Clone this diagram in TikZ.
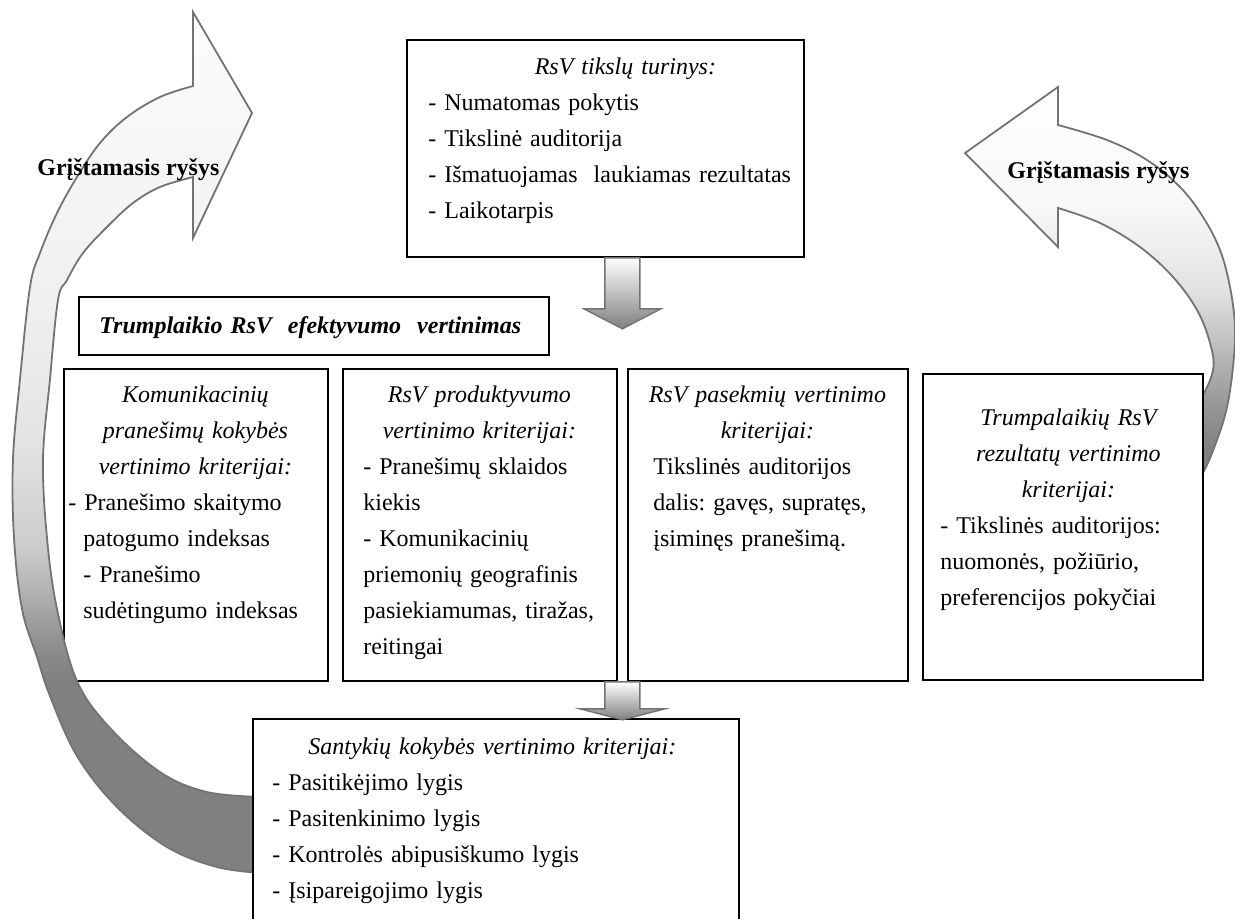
\documentclass[tikz,border=0pt]{standalone}
\usepackage{fontspec}
\setmainfont{Liberation Serif}
\usetikzlibrary{calc}

% shadings of the two feedback arrows (white at the head, grey at the tail)
\pgfdeclareverticalshading{fbleft}{100bp}{color(0bp)=(black!50); color(36bp)=(black!50); color(38bp)=(black!45); color(41bp)=(black!32); color(44bp)=(black!20); color(50bp)=(black!11); color(58bp)=(black!6); color(75bp)=(black!1); color(100bp)=(black!1)}
\pgfdeclareverticalshading{fbright}{100bp}{color(0bp)=(black!50); color(31bp)=(black!50); color(37bp)=(black!40); color(44bp)=(black!25); color(50bp)=(black!12); color(60bp)=(black!3); color(75bp)=(white); color(100bp)=(white)}

\newcommand{\boxhead}[2]{\makebox[#1]{\itshape #2}}

\tikzset{
    box/.style={draw, line width=0.9pt, fill=white, anchor=north west, inner sep=0pt},
    txt/.style={anchor=base west, inner sep=0pt, align=left, text width=#1,
        font=\fontsize{12pt}{18pt}\selectfont\frenchspacing},
    blockarrow/.style={draw=black!55, line width=0.7pt, top color=white, bottom color=black!50},
    fbarrow/.style={draw=black!55, line width=0.9pt, shade, shading=#1},
    fblabel/.style={anchor=base west, inner sep=0pt, font=\fontsize{12pt}{18pt}\selectfont\bfseries}
}

\begin{document}
\begin{tikzpicture}[x=0.5pt, y=-0.5pt]
        \useasboundingbox (0,0) rectangle (1235,918);
        \clip (0,0) rectangle (1235,918);

        % right feedback arrow
        \draw[fbarrow=fbright] (1180,425) -- plot[smooth, tension=0.6] coordinates {(1180,425) (1200,400) (1213,370) (1210,343) (1197,310) (1173,277) (1140,247) (1100,223) (1058,208)}
            -- (1058,247) -- (965,153) -- (1058,87) -- (1058,125)
            -- plot[smooth, tension=0.6] coordinates {(1058,125) (1107,140) (1147,160) (1180,187) (1203,217) (1220,250) (1230,287) (1235,327) (1233,367) (1227,407) (1217,440) (1203,473) (1185,500)} -- cycle;

        % goals
        \node[box, minimum width=198.5pt, minimum height=108.5pt] (tikslai) at (406,39) {};
        \node[txt=197pt] (tikslai-t) at (428,74) {\boxhead{197pt}{RsV tikslų turinys:}\\
            - Numatomas pokytis\\
            - Tikslinė auditorija\\
            - Išmatuojamas \ laukiamas rezultatas\\
            - Laikotarpis};

        % short term evaluation
        \node[box, minimum width=235pt, minimum height=29pt] (trumpl) at (78,296) {};
        \node[txt=225pt, font=\fontsize{12pt}{18pt}\selectfont\bfseries\itshape] (trumpl-t) at (99,333) {Trumplaikio RsV \ efektyvumo \ vertinimas};

        \node[box, minimum width=132pt, minimum height=156pt] (komun) at (63,368) {};
        \node[txt=140pt] (komun-t) at (83,402) {\boxhead{112pt}{Komunikacinių}\\
            \boxhead{112pt}{pranešimų kokybės}\\
            \boxhead{112pt}{vertinimo kriterijai:}\\
            \hspace*{-7.5pt}- Pranešimo skaitymo\\
            patogumo indeksas\\
            - Pranešimo\\
            sudėtingumo indeksas};

        \node[box, minimum width=137pt, minimum height=156pt] (produkt) at (342,368) {};
        \node[txt=130pt] (produkt-t) at (363,402) {\boxhead{116pt}{RsV produktyvumo}\\
            \boxhead{116pt}{vertinimo kriterijai:}\\
            - Pranešimų sklaidos\\
            kiekis\\
            - Komunikacinių\\
            priemonių geografinis\\
            pasiekiamumas, tiražas,\\
            reitingai};

        \node[box, minimum width=140pt, minimum height=156pt] (pasekm) at (627,368) {};
        \node[txt=130pt] (pasekm-t) at (653,402) {\boxhead{114pt}{RsV pasekmių vertinimo}\\
            \boxhead{114pt}{kriterijai:}\\
            Tikslinės auditorijos\\
            dalis: gavęs, supratęs,\\
            įsiminęs pranešimą.};

        \node[box, minimum width=140pt, minimum height=153pt] (rezult) at (922,373) {};
        \node[txt=135pt] (rezult-t) at (940,425) {\boxhead{128pt}{Trumpalaikių RsV}\\
            \boxhead{128pt}{rezultatų vertinimo}\\
            \boxhead{128pt}{kriterijai:}\\
            - Tikslinės auditorijos:\\
            nuomonės, požiūrio,\\
            preferencijos pokyčiai};

        % left feedback arrow
        \draw[fbarrow=fbleft] (262,797) -- plot[smooth, tension=0.6] coordinates {(262,797) (207,792) (160,772) (110,728) (77,681) (57,609) (47,538) (43,459) (50,379) (58,300) (67,280) (83,253) (107,227) (133,203) (160,187) (193,177)}
            -- (193,238) -- (252,113) -- (193,12) -- (193,86)
            -- plot[smooth, tension=0.6] coordinates {(193,86) (160,97) (127,117) (100,143) (77,177) (57,213) (40,253) (30,287) (20,379) (13,459) (14,538) (22,609) (37,657) (50,696) (77,756) (117,807) (167,847) (217,867) (262,873)} -- cycle;

        % relationship quality
        \node[box, minimum width=243pt, minimum height=106pt] (santyk) at (252,718) {};
        \node[txt=225pt] (santyk-t) at (272,754) {\boxhead{220pt}{Santykių kokybės vertinimo kriterijai:}\\
            - Pasitikėjimo lygis\\
            - Pasitenkinimo lygis\\
            - Kontrolės abipusiškumo lygis\\
            - Įsipareigojimo lygis};

        % block arrows
        \coordinate (gap) at ($(produkt.north east)!0.5!(pasekm.north west)$);
        \coordinate (g1) at (gap |- tikslai.south);
        \coordinate (g2) at (gap |- produkt.south);
        \draw[blockarrow] (g1) ++(-17.5,0) -- ++(0,51) -- ++(-21,0) -- ++(38.5,20) -- ++(38.5,-20) -- ++(-21,0) -- ++(0,-51) -- cycle;
        \draw[blockarrow] (g2) ++(-17.5,0) -- ++(0,27) -- ++(-25,0) -- ++(42.5,11) -- ++(42.5,-11) -- ++(-25,0) -- ++(0,-27) -- cycle;

        \node[fblabel] (fb-left) at (37,175) {Grįštamasis ryšys};
        \node[fblabel] (fb-right) at (1007,178) {Grįštamasis ryšys};
    \end{tikzpicture}
\end{document}
